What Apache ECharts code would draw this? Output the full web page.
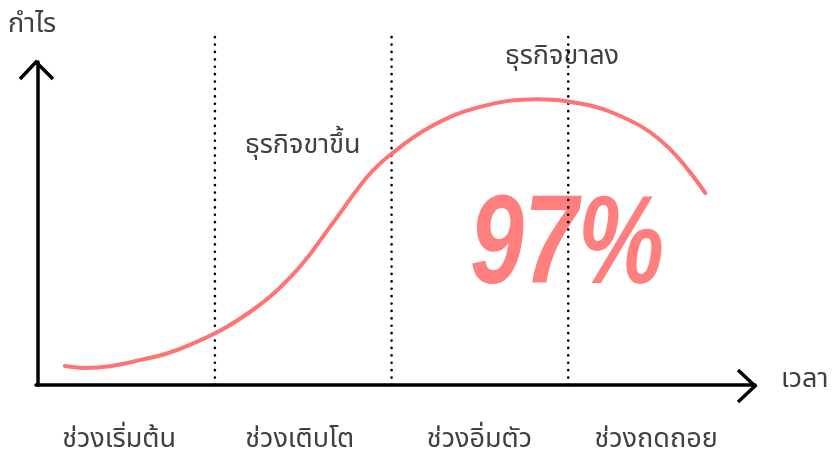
<!DOCTYPE html>
<html><head><meta charset="utf-8">
<script src="https://cdn.jsdelivr.net/npm/echarts@6/dist/echarts.min.js"></script>
<style>html,body{margin:0;padding:0;background:#fff}#c{width:832px;height:452px}</style>
</head><body><div id="c"></div>
<script>
// Curve (time in stage units, profit)
const curveX = [0.153,0.266,0.578,0.861,1.201,1.467,1.671,1.864,1.994,2.221,2.504,2.827,2.986,3.258,3.541,3.779];
const curveY = [5.9,5.3,7.7,12.4,22.6,35.6,50.2,64.4,71.2,79.9,86.1,88.5,87.9,84.2,75.0,59.4];
const stageBounds = [1,2,3];
const stageNames = ['ช่วงเริ่มต้น','ช่วงเติบโต','ช่วงอิ่มตัว','ช่วงถดถอย'];
const yName = 'กำไร';
const xName = 'เวลา';
const upLabel = 'ธุรกิจขาขึ้น';
const downLabel = 'ธุรกิจขาลง';
const bigText = '97%';

const FONT = '"Noto Sans Thai","Noto Sans","DejaVu Sans",sans-serif';
const TXT = '#404040';
const labelShift = [-7,-3,0,0];
const chart = echarts.init(document.getElementById('c'), null, {renderer:'canvas'});
const dividerTop = 108;
chart.setOption({
  animation:false,
  grid:{left:36,right:77,top:62,bottom:67},
  xAxis:{type:'value',min:-0.01,max:4.06,
    axisLine:{show:true,lineStyle:{color:'#000',width:3.5}},
    axisTick:{show:false},axisLabel:{show:false},splitLine:{show:false}},
  yAxis:{type:'value',min:0,max:100,
    axisLine:{show:true,lineStyle:{color:'#000',width:3.5}},
    axisTick:{show:false},axisLabel:{show:false},splitLine:{show:false}},
  series:[
    {type:'custom',clip:false,silent:true,
      data:stageBounds.map(v=>[v]),
      renderItem:function(params,api){
        const b=api.coord([api.value(0),0]);
        const t=api.coord([api.value(0),dividerTop]);
        return {type:'line',shape:{x1:b[0]+0.5,y1:b[1],x2:t[0]+0.5,y2:t[1]},
          style:{stroke:'#000',lineWidth:2.6,lineDash:[0.1,7.3],lineCap:'round'}};
      }},
    {type:'custom',clip:false,silent:true,
      data:stageNames.map((n,i)=>[i+0.5,n]),
      renderItem:function(params,api){
        const p=api.coord([api.value(0),0]);
        return {type:'text',x:p[0]+labelShift[params.dataIndex],y:p[1]+57,
          style:{text:stageNames[params.dataIndex],fill:TXT,font:'27px '+FONT,textAlign:'center',textVerticalAlign:'middle'}};
      }},
    {type:'line',smooth:0.4,showSymbol:false,clip:false,
      data:curveX.map((x,i)=>[x,curveY[i]]),
      lineStyle:{color:'#ff7373',width:4,cap:'round'}}
  ],
  graphic:[
    {type:'polyline',shape:{points:[[20,79],[36,62],[53,79]]},style:{stroke:'#000',lineWidth:3.5,fill:null}},
    {type:'polyline',shape:{points:[[738,370],[755,386],[738,402]]},style:{stroke:'#000',lineWidth:3.5,fill:null}},
    {type:'text',x:8,y:27,style:{text:yName,fill:TXT,font:'27px '+FONT,textVerticalAlign:'middle'}},
    {type:'text',x:781,y:382,style:{text:xName,fill:TXT,font:'27px '+FONT,textVerticalAlign:'middle'}},
    {type:'text',x:245,y:148,style:{text:upLabel,fill:TXT,font:'27px '+FONT,textVerticalAlign:'middle'}},
    {type:'text',x:505,y:59,style:{text:downLabel,fill:TXT,font:'27px '+FONT,textVerticalAlign:'middle'}},
    {type:'text',x:470,y:248,scaleX:1,scaleY:1.3,
      style:{text:bigText,fill:'#ff7f7f',font:'italic bold 97px "Liberation Sans",sans-serif',textVerticalAlign:'middle'}}
  ]
});
</script></body></html>
